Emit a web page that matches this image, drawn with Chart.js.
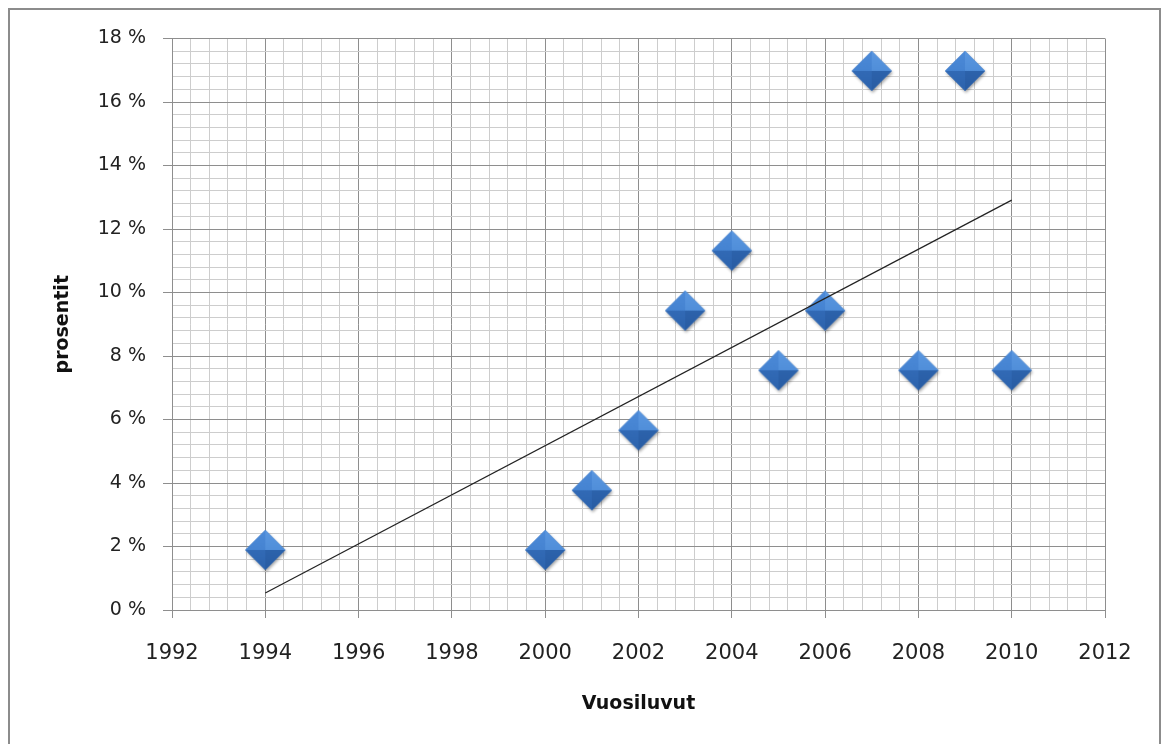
<!DOCTYPE html>
<html>
<head>
<meta charset="utf-8">
<script src="https://cdn.jsdelivr.net/npm/chart.js@4/dist/chart.umd.min.js"></script>
<style>
  html, body { margin: 0; padding: 0; background: #fff; }
  #wrap { width: 1163px; height: 744px; position: relative; }
</style>
</head>
<body>
<div id="wrap"><canvas id="c" width="1163" height="744"></canvas></div>
<script>
// ---- Data ----
const years = [1994, 2000, 2001, 2002, 2003, 2004, 2005, 2006, 2007, 2008, 2009, 2010];
const percents = [1.89, 1.89, 3.77, 5.66, 9.43, 11.32, 7.55, 9.43, 16.98, 7.55, 16.98, 7.55];
const xTickLabels = ['1992', '1994', '1996', '1998', '2000', '2002', '2004', '2006', '2008', '2010', '2012'];
const yTickLabels = ['0 %', '2 %', '4 %', '6 %', '8 %', '10 %', '12 %', '14 %', '16 %', '18 %'];
const xTitle = 'Vuosiluvut';
const yTitle = 'prosentit';

// Linear trend (least squares) computed from the data
const n = years.length;
const mx = years.reduce((a, b) => a + b, 0) / n;
const my = percents.reduce((a, b) => a + b, 0) / n;
let sxx = 0, sxy = 0;
for (let i = 0; i < n; i++) { sxx += (years[i] - mx) ** 2; sxy += (years[i] - mx) * (percents[i] - my); }
const slope = sxy / sxx, icpt = my - slope * mx;
const xFirst = Math.min(...years), xLast = Math.max(...years);
const trend = [{x: xFirst, y: icpt + slope * xFirst}, {x: xLast, y: icpt + slope * xLast}];

// Beveled diamond marker image
function makeDiamond(r) {
  const pad = 5, s = 2 * r + 2 * pad;
  const cv = document.createElement('canvas');
  cv.width = s; cv.height = s;
  const g = cv.getContext('2d');
  const cx = s / 2, cy = s / 2;
  g.save();
  g.shadowColor = 'rgba(0,0,0,0.35)';
  g.shadowBlur = 3; g.shadowOffsetX = 1; g.shadowOffsetY = 2;
  g.beginPath();
  g.moveTo(cx - r, cy); g.lineTo(cx, cy - r); g.lineTo(cx + r, cy); g.lineTo(cx, cy + r); g.closePath();
  g.fillStyle = '#3a74c0'; g.fill();
  g.restore();
  const facets = [
    [[cx - r, cy], [cx, cy - r], '#4c8ad8', '#3f7dcb'],
    [[cx, cy - r], [cx + r, cy], '#5a97e0', '#4786d3'],
    [[cx + r, cy], [cx, cy + r], '#3169b4', '#285ca3'],
    [[cx, cy + r], [cx - r, cy], '#3871be', '#2c63ad']
  ];
  facets.forEach(f => {
    g.beginPath();
    g.moveTo(f[0][0], f[0][1]); g.lineTo(f[1][0], f[1][1]); g.lineTo(cx, cy); g.closePath();
    const gr = g.createLinearGradient(cx, cy - r, cx, cy + r);
    gr.addColorStop(0, f[2]); gr.addColorStop(1, f[3]);
    g.fillStyle = gr; g.fill();
  });
  return cv;
}
const diamond = makeDiamond(20);

const isMajor = v => Math.abs(v / 2 - Math.round(v / 2)) < 1e-6;

const frame = {
  id: 'frame',
  beforeDraw(chart) {
    const ctx = chart.ctx;
    ctx.save();
    ctx.fillStyle = '#fff';
    ctx.fillRect(0, 0, chart.width, chart.height);
    ctx.strokeStyle = '#8c8c8c';
    ctx.lineWidth = 2;
    ctx.strokeRect(9, 9, 1151, 760);
    ctx.restore();
  }
};

const FONT = "'DejaVu Sans', sans-serif";

new Chart(document.getElementById('c'), {
  type: 'scatter',
  data: {
    datasets: [
      {
        label: 'trend', data: trend, showLine: true, borderColor: '#222', borderWidth: 1.2,
        pointRadius: 0, order: 0
      },
      {
        label: 'prosentit', data: years.map((y, i) => ({x: y, y: percents[i]})),
        pointStyle: diamond, pointRadius: 20, order: 1
      }
    ]
  },
  options: {
    responsive: false,
    animation: false,
    events: [],
    layout: { padding: { left: 0, right: 58, top: 38.5, bottom: 0 } },
    plugins: { legend: { display: false }, tooltip: { enabled: false } },
    scales: {
      x: {
        type: 'linear', min: 1992, max: 2012,
        afterFit: s => { s.height = 134; },
        ticks: {
          stepSize: 0.4, autoSkip: false, maxRotation: 0, padding: 23,
          color: '#222', font: { family: FONT, size: 21 },
          callback: v => isMajor(v - 1992) ? xTickLabels[Math.round((v - 1992) / 2)] : ''
        },
        grid: {
          color: c => isMajor(c.tick.value - 1992) ? '#8e8e8e' : '#cdcdcd',
          tickColor: c => isMajor(c.tick.value - 1992) ? '#8e8e8e' : 'rgba(0,0,0,0)',
          tickLength: 8, lineWidth: 1
        },
        border: { color: '#8e8e8e' },
        title: { display: true, text: xTitle, color: '#111', font: { family: FONT, size: 19, weight: 'bold' }, padding: { top: 0, bottom: 29 } }
      },
      y: {
        type: 'linear', min: 0, max: 18,
        afterFit: s => { s.width = 172; },
        ticks: {
          stepSize: 0.4, autoSkip: false, padding: 17,
          color: '#222', font: { family: FONT, size: 19 },
          callback: v => isMajor(v) ? yTickLabels[Math.round(v / 2)] : ''
        },
        grid: {
          color: c => isMajor(c.tick.value) ? '#8e8e8e' : '#cdcdcd',
          tickColor: c => isMajor(c.tick.value) ? '#8e8e8e' : 'rgba(0,0,0,0)',
          tickLength: 9, lineWidth: 1
        },
        border: { color: '#8e8e8e' },
        title: { display: true, text: yTitle, color: '#111', font: { family: FONT, size: 19, weight: 'bold' }, padding: { top: 52, bottom: 0 } }
      }
    }
  },
  plugins: [frame]
});
</script>
</body>
</html>
